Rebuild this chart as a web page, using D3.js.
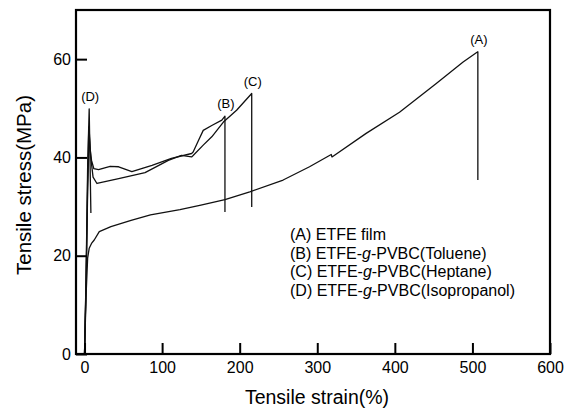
<!DOCTYPE html>
<html>
<head>
<meta charset="utf-8">
<script src="https://cdn.jsdelivr.net/npm/d3@7"></script>
<style>
  body { margin: 0; background: #fff; }
  text { font-family: "Liberation Sans", Arial, sans-serif; fill: #000; }
</style>
</head>
<body>
<svg></svg>
<script>
// strain (%) / stress (MPa)
const strainA = [0, 2, 4, 6, 9, 12.5, 19, 34, 60, 85, 123, 150, 181, 213, 256, 290, 318, 319, 363, 406, 453, 488, 505, 507, 507];
const stressA = [0, 12, 19.5, 21.5, 22.5, 23.2, 24.9, 25.9, 27.2, 28.3, 29.4, 30.3, 31.4, 33, 35.4, 38.1, 40.6, 40.1, 44.9, 49.2, 55, 59.4, 61.3, 61.5, 35.4];

const strainB = [0, 2, 4, 5.5, 7, 9, 12, 18, 33, 44, 61, 87, 112, 138, 140, 147, 153, 164, 177, 181, 181];
const stressB = [0, 15, 35, 46.2, 42, 39.4, 37.7, 37.5, 38.2, 38.1, 37.1, 38.4, 39.8, 40.8, 41.1, 43.5, 45.5, 46.5, 47.6, 48.4, 28.9];

const strainC = [0, 2, 4, 6, 8, 11, 16, 44, 78, 108, 125, 138, 140, 153, 164, 179, 196, 215.5, 215.5];
const stressC = [0, 14, 33, 45.5, 40, 36, 34.7, 35.7, 36.9, 39.4, 40.4, 40.1, 40.4, 42.5, 44.2, 47.2, 49.6, 53, 29.9];

const strainD = [0, 2, 4, 6, 7, 8.2];
const stressD = [0, 16, 38, 49.9, 40, 28.7];

const curveTags = ["(A)", "(B)", "(C)", "(D)"];
const legendLines = [
    ["(A) ETFE film", "", ""],
    ["(B) ETFE-", "g", "-PVBC(Toluene)"],
    ["(C) ETFE-", "g", "-PVBC(Heptane)"],
    ["(D) ETFE-", "g", "-PVBC(Isopropanol)"]
];
const xTicks = [0, 100, 200, 300, 400, 500, 600];
const yTicks = [0, 20, 40, 60];

const width = 568, height = 410;
const plotLeft = 76, plotRight = 550, plotTop = 10, plotBottom = 354;

const svg = d3.select("svg").attr("width", width).attr("height", height);

const x = d3.scaleLinear().domain([-11, 600]).range([plotLeft, plotRight]);
const y = d3.scaleLinear().domain([0, 70]).range([plotBottom, plotTop]);

const series = [
    { xs: strainA, ys: stressA },
    { xs: strainB, ys: stressB },
    { xs: strainC, ys: stressC },
    { xs: strainD, ys: stressD }
];

const line = d3.line().x(d => x(d[0])).y(d => y(d[1]));

series.forEach((s, i) => {
    const pts = s.xs.map((v, k) => [v, s.ys[k]]);
    svg.append("path")
        .attr("d", line(pts))
        .attr("fill", "none")
        .attr("stroke", "#111")
        .attr("stroke-width", 1.3)
        .attr("stroke-linejoin", "round");

    // label above the break point
    let peak = pts[0];
    pts.forEach(p => { if (p[1] > peak[1]) peak = p; });
    svg.append("text")
        .attr("x", x(peak[0]) + 1)
        .attr("y", y(peak[1]) - 8)
        .attr("text-anchor", "middle")
        .style("font-size", "13px")
        .text(curveTags[i]);
});

// axes, ticks pointing inward
const xAxis = svg.append("g")
    .attr("transform", `translate(0,${plotBottom})`)
    .call(d3.axisBottom(x).tickValues(xTicks).tickSizeInner(-11).tickSizeOuter(0).tickPadding(8));
const yAxis = svg.append("g")
    .attr("transform", `translate(${plotLeft},0)`)
    .call(d3.axisLeft(y).tickValues(yTicks).tickSizeInner(-11).tickSizeOuter(0).tickPadding(5));

[xAxis, yAxis].forEach(g => {
    g.select(".domain").remove();
    g.selectAll(".tick line").attr("stroke", "#000").attr("stroke-width", 2);
    g.selectAll(".tick text")
        .style("font-family", "'Liberation Sans', Arial, sans-serif")
        .style("font-size", "16px")
        .attr("fill", "#000");
});

svg.append("rect")
    .attr("x", plotLeft).attr("y", plotTop)
    .attr("width", plotRight - plotLeft).attr("height", plotBottom - plotTop)
    .attr("fill", "none")
    .attr("stroke", "#000")
    .attr("stroke-width", 2.2);

// axis titles
svg.append("text")
    .attr("x", 317).attr("y", 404)
    .attr("text-anchor", "middle")
    .style("font-size", "19.5px")
    .text("Tensile strain(%)");

svg.append("text")
    .attr("transform", "translate(31,185) rotate(-90)")
    .attr("text-anchor", "middle")
    .style("font-size", "20.5px")
    .text("Tensile stress(MPa)");

// legend
const legend = svg.append("g").attr("transform", "translate(290,240)");
legendLines.forEach((parts, i) => {
    const t = legend.append("text")
        .attr("y", i * 18.5)
        .style("font-size", "16px");
    t.append("tspan").text(parts[0]);
    if (parts[1]) {
        t.append("tspan").style("font-style", "italic").text(parts[1]);
        t.append("tspan").text(parts[2]);
    }
});
</script>
</body>
</html>
